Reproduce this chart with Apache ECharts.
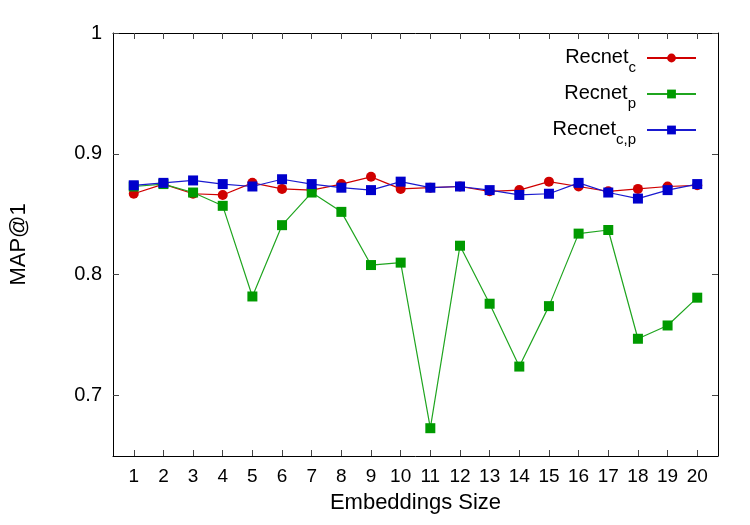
<!DOCTYPE html>
<html>
<head>
<meta charset="utf-8">
<script src="https://cdn.jsdelivr.net/npm/echarts@6/dist/echarts.min.js"></script>
<style>
    html, body { margin: 0; padding: 0; background: #fff; }
    #chart { width: 750px; height: 525px; }
</style>
</head>
<body>
<div id="chart"></div>
<script>
// embeddings size 1..20
var sizes = [1, 2, 3, 4, 5, 6, 7, 8, 9, 10, 11, 12, 13, 14, 15, 16, 17, 18, 19, 20];
var recnetC = [0.867, 0.875, 0.867, 0.866, 0.876, 0.871, 0.870, 0.875, 0.881, 0.871,
    0.872, 0.873, 0.869, 0.870, 0.877, 0.873, 0.869, 0.871, 0.873, 0.874];
var recnetP = [0.873, 0.875, 0.868, 0.857, 0.782, 0.841, 0.868, 0.852, 0.808, 0.810,
    0.673, 0.824, 0.776, 0.724, 0.774, 0.834, 0.837, 0.747, 0.758, 0.781];
var recnetCP = [0.874, 0.876, 0.878, 0.875, 0.873, 0.879, 0.875, 0.872, 0.870, 0.877,
    0.872, 0.873, 0.870, 0.866, 0.867, 0.876, 0.868, 0.863, 0.870, 0.875];
var yTicks = [0.7, 0.8, 0.9, 1];

var font = '"Liberation Sans", Arial, sans-serif';

function pairs(vals) {
    var out = [];
    for (var i = 0; i < sizes.length; i++) out.push([sizes[i], vals[i]]);
    return out;
}

var myChart = echarts.init(document.getElementById('chart'));

// legend text with subscript
var subRich = {
    a: { fontFamily: font, fontSize: 20, color: '#000', lineHeight: 22, verticalAlign: 'top' },
    b: { fontFamily: font, fontSize: 15, color: '#000', lineHeight: 15, padding: [13, 6, 0, 0], verticalAlign: 'top' }
};

var option = {
    animation: false,
    backgroundColor: '#fff',
    grid: { left: 113, right: 32, top: 33, bottom: 69 },
    legend: {
        orient: 'vertical',
        right: 48,
        top: 42,
        align: 'right',
        itemWidth: 49,
        itemHeight: 11,
        itemGap: 8,
        formatter: function (name) {
            var sub = { 'Recnet_c': 'c', 'Recnet_p': 'p', 'Recnet_cp': 'c,p' }[name];
            return '{a|Recnet}{b|' + sub + '}';
        },
        textStyle: { rich: subRich },
        data: ['Recnet_c', 'Recnet_p', 'Recnet_cp']
    },
    xAxis: [{
        type: 'value',
        min: 0.3,
        max: 20.7,
        interval: 1,
        name: 'Embeddings Size',
        nameLocation: 'middle',
        nameGap: 36,
        nameTextStyle: { fontFamily: font, fontSize: 22, color: '#000' },
        axisLine: { onZero: false, lineStyle: { color: '#000', width: 1 } },
        axisTick: { inside: true, length: 6, lineStyle: { color: '#444' }, customValues: sizes },
        axisLabel: { fontFamily: font, fontSize: 19, color: '#000', margin: 11, customValues: sizes },
        splitLine: { show: false }
    }, {
        type: 'value',
        position: 'top',
        min: 0.3,
        max: 20.7,
        axisLine: { onZero: false, lineStyle: { color: '#000', width: 1 } },
        axisTick: { inside: true, length: 6, lineStyle: { color: '#444' }, customValues: sizes },
        axisLabel: { show: false },
        splitLine: { show: false }
    }],
    yAxis: [{
        type: 'value',
        min: 0.65,
        max: 1,
        name: 'MAP@1',
        nameLocation: 'middle',
        nameGap: 83,
        nameTextStyle: { fontFamily: font, fontSize: 22, color: '#000' },
        axisLine: { show: true, onZero: false, lineStyle: { color: '#000', width: 1 } },
        axisTick: { show: true, inside: true, length: 6, lineStyle: { color: '#444' }, customValues: yTicks },
        axisLabel: {
            fontFamily: font, fontSize: 20, color: '#000', margin: 11, customValues: yTicks,
            formatter: function (v) { return v == 1 ? '1' : v.toFixed(1); }
        },
        splitLine: { show: false }
    }, {
        type: 'value',
        position: 'right',
        min: 0.65,
        max: 1,
        axisLine: { show: true, onZero: false, lineStyle: { color: '#000', width: 1 } },
        axisTick: { show: true, inside: true, length: 6, lineStyle: { color: '#444' }, customValues: yTicks },
        axisLabel: { show: false },
        splitLine: { show: false }
    }],
    series: [{
        name: 'Recnet_c',
        type: 'line',
        data: pairs(recnetC),
        symbol: 'circle',
        symbolSize: 10,
        color: '#d00000',
        lineStyle: { color: '#d00000', width: 1.2 },
        itemStyle: { color: '#d00000' },
        z: 2
    }, {
        name: 'Recnet_p',
        type: 'line',
        data: pairs(recnetP),
        symbol: 'rect',
        symbolSize: 10,
        color: '#009a00',
        lineStyle: { color: '#1fa51f', width: 1.2 },
        itemStyle: { color: '#009a00' },
        z: 3
    }, {
        name: 'Recnet_cp',
        type: 'line',
        data: pairs(recnetCP),
        symbol: 'rect',
        symbolSize: 10,
        color: '#0000cc',
        lineStyle: { color: '#1a1ad0', width: 1.2 },
        itemStyle: { color: '#0000cc' },
        z: 4
    }]
};

myChart.setOption(option);
</script>
</body>
</html>
